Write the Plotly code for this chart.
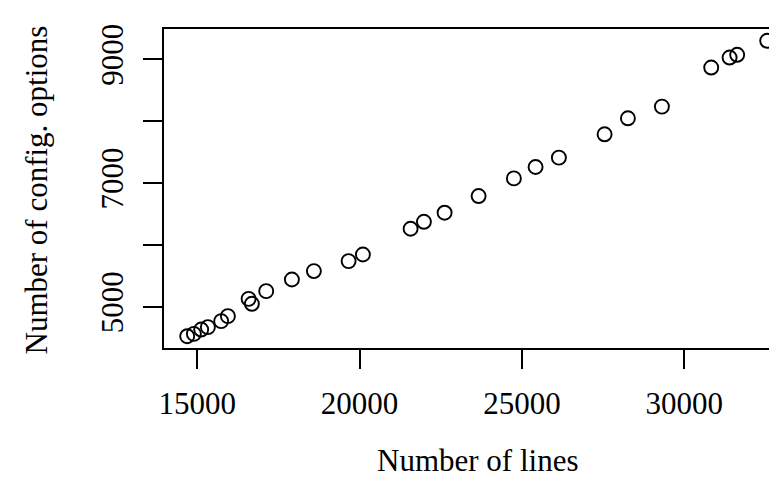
import plotly.graph_objects as go

# Data
lines = [14692, 14898, 15123, 15329, 15739, 15945, 16583, 16684, 17125, 17916,
         18593, 19662, 20102, 21571, 21981, 22618, 23665, 24751, 25419, 26137,
         27544, 28262, 29309, 30827, 31393, 31627, 32551]
options = [4526, 4563, 4633, 4672, 4769, 4850, 5129, 5049, 5254, 5442,
           5578, 5739, 5846, 6262, 6375, 6521, 6791, 7076, 7260, 7411,
           7788, 8047, 8236, 8867, 9029, 9073, 9299]

x_ticks = [15000, 20000, 25000, 30000]
x_ticklabels = ["15000", "20000", "25000", "30000"]
y_ticks = [5000, 6000, 7000, 8000, 9000]
y_ticklabels = ["5000", "", "7000", "", "9000"]

x_title = "Number of lines"
y_title = "Number of config. options"

FONT = "Liberation Serif"
FS = 31

fig = go.Figure()
fig.add_trace(go.Scatter(
    x=lines, y=options, mode="markers",
    marker=dict(symbol="circle-open", size=14, color="black",
                line=dict(width=1.9, color="black")),
    showlegend=False, hoverinfo="skip",
))

fig.update_layout(
    width=777, height=487,
    margin=dict(l=156, r=0, t=21, b=147),
    paper_bgcolor="white", plot_bgcolor="white",
    font=dict(family=FONT, size=FS, color="black"),
    xaxis=dict(
        range=[13978, 33099], showgrid=False, zeroline=False,
        showline=True, mirror=True, linecolor="black", linewidth=1.8,
        ticks="outside", ticklen=19, tickwidth=1.8, tickcolor="black",
        tickvals=x_ticks, ticktext=x_ticklabels,
        tickfont=dict(family=FONT, size=FS, color="black"),
        ticklabelstandoff=8,
    ),
    yaxis=dict(
        range=[4335, 9490], showgrid=False, zeroline=False,
        showline=True, mirror=False, linecolor="black", linewidth=1.8,
        ticks="outside", ticklen=19, tickwidth=1.8, tickcolor="black",
        tickvals=y_ticks, ticktext=y_ticklabels, tickangle=-90,
        tickfont=dict(family=FONT, size=FS, color="black"),
        ticklabelstandoff=8,
    ),
    annotations=[
        dict(text=x_title, xref="paper", yref="paper",
             x=(469 - 156) / 621, y=(340 - 452) / 319,
             xanchor="center", yanchor="middle", showarrow=False,
             font=dict(family=FONT, size=FS, color="black")),
        dict(text=y_title, xref="paper", yref="paper",
             x=(27.5 - 156) / 621, y=(340 - 182) / 319,
             xanchor="center", yanchor="middle", showarrow=False, textangle=-90,
             font=dict(family=FONT, size=FS, color="black")),
    ],
)

fig.write_html("out.html")
